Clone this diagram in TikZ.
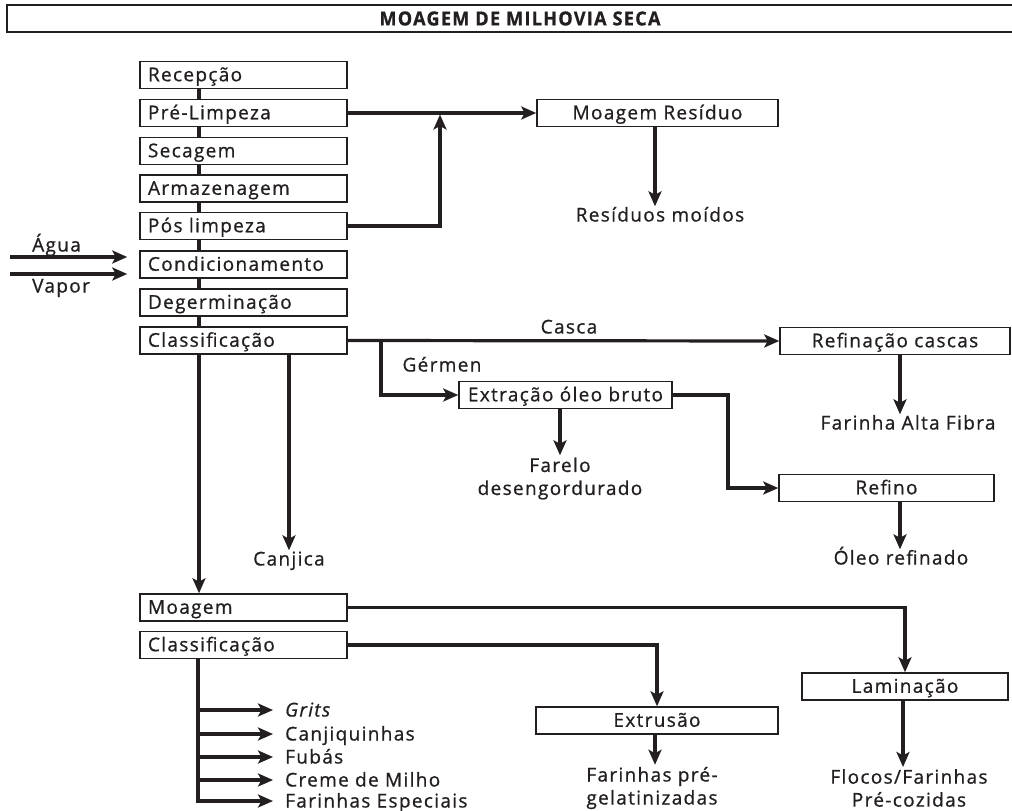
\documentclass[tikz,border=0pt]{standalone}
\usepackage{fontspec}
\usepackage{graphicx}
\setmainfont{Open Sans}[LetterSpace=7,FakeBold=0.8]
\usetikzlibrary{arrows.meta,calc}
\definecolor{ink}{HTML}{231F20}
\newcommand\bodyfnt{\fontsize{19}{23}\selectfont}
\begin{document}
\begin{tikzpicture}[x=1pt,y=-1pt,
  every node/.style={text=ink},
  box/.style={draw=ink, line width=1.5pt, minimum height=27pt, inner ysep=0pt, inner xsep=0pt, font=\bodyfnt, text height=13.5pt, text depth=1pt},
  colbox/.style={box, inner xsep=8pt, text width=191pt, align=left},
  cbox/.style={box, align=center},
  lbl/.style={inner sep=2pt, font=\bodyfnt, text height=13pt, text depth=0pt},
  mlbl/.style={inner sep=2pt, font=\bodyfnt, align=center},
  conn/.style={draw=ink, line width=3.2pt},
  arr/.style={conn, -{Stealth[length=15pt,width=13pt,inset=3.5pt]}}
]
\useasboundingbox (0,0) rectangle (1012,811);
\fill[white] (0,0) rectangle (1012,811);

% title
\draw[draw=ink, line width=1.6pt] (7,5) rectangle (1030,32);
\node[inner sep=0pt] (title) at (520,18.5) {\resizebox{281pt}{14pt}{\bfseries MOAGEM DE MILHOVIA SECA}};

% column coordinates
\coordinate (colx) at (199,0);
\coordinate (colxb) at (198,0);

% main column boxes
\node[colbox] (rec)  at (243.5,75)    {Recepção};
\node[colbox] (pre)  at (243.5,113)   {Pré-Limpeza};
\node[colbox] (sec)  at (243.5,151)   {Secagem};
\node[colbox] (arm)  at (243.5,188.5) {Armazenagem};
\node[colbox] (pos)  at (243.5,226)   {Pós limpeza};
\node[colbox] (cond) at (243.5,264.5) {Condicionamento};
\node[colbox] (deg)  at (243.5,302.5) {Degerminação};
\node[colbox] (cl1)  at (243.5,340.5) {Classificação};
\node[colbox] (mo)   at (243.5,607.5) {Moagem};
\node[colbox] (cl2)  at (243.5,645)   {Classificação};

% other boxes
\node[cbox, minimum width=241pt] (mr)  at (657.5,113) {Moagem Resíduo};
\node[cbox, minimum width=230pt] (rc)  at (895,341)   {Refinação cascas};
\node[cbox, minimum width=213pt] (ex)  at (565.5,395) {Extração óleo bruto};
\node[cbox, minimum width=215pt] (rf)  at (886.5,488) {Refino};
\node[cbox, minimum width=242pt] (ext) at (657,720.5) {Extrusão};
\node[cbox, minimum width=206pt] (la)  at (905,686.5) {Laminação};

% labels
\node[lbl] (res)   at (660,215) {Resíduos moídos};
\node[lbl] (fa)    at (908,423) {Farinha Alta Fibra};
\node[lbl] (casca) at (569,327) {Casca};
\node[lbl] (germ)  at (442,365) {Gérmen};
\node[mlbl] (far)  at (560,478.5) {Farelo\\desengordurado};
\node[lbl] (oleo)  at (901,558) {Óleo refinado};
\node[lbl] (canj)  at (289,559) {Canjica};
\node[lbl, anchor=west] (agua)  at (30,245) {Água};
\node[lbl, anchor=west] (vapor) at (30,286) {Vapor};
\node[mlbl] (fp)   at (652,788) {Farinhas pré-\\gelatinizadas};
\node[mlbl] (fl)   at (909,788) {Flocos/Farinhas\\Pré-cozidas};

\node[lbl, anchor=west] (grits) at (283,710) {\itshape Grits};
\node[lbl, anchor=west] (canq)  at (283,734) {Canjiquinhas};
\node[lbl, anchor=west] (fub)   at (283,757) {Fubás};
\node[lbl, anchor=west] (crm)   at (283,780) {Creme de Milho};
\node[lbl, anchor=west] (fes)   at (283,801) {Farinhas Especiais};

% column connectors
\foreach \a/\b in {rec/pre,pre/sec,sec/arm,arm/pos,pos/cond,cond/deg,deg/cl1}
  \draw[conn] (\a.south -| colx) -- (\b.north -| colx);

% residue branch
\coordinate (jr) at (440,114.5);
\draw[arr] (pre.east) -- (mr.west);
\draw[arr] (pos.east) -| (jr);
\draw[arr] (mr.south -| 655,0) -- (655,0 |- res.north);

% water / steam
\coordinate (ags) at (10,257);
\coordinate (vps) at (10,274);
\draw[arr] (ags) -- ([xshift=-12pt]cond.west |- ags);
\draw[arr] (vps) -- ([xshift=-12pt]cond.west |- vps);

% classification branches
\coordinate (gj) at (381,340.5);
\coordinate (jx) at (728,0);
\coordinate (ax) at (900,0);
\draw[arr] (cl1.east) -- (rc.west);
\draw[arr] (gj) |- (ex.west);
\draw[arr] (rc.south -| ax) -- (ax |- fa.north);
\draw[arr] (ex.south -| far.north) -- (far.north);
\draw[arr] (ex.east) -- (ex.east -| jx) |- (rf.west);
\draw[arr] (rf.south -| ax) -- (ax |- oleo.north);
\draw[arr] (cl1.south -| canj.north) -- (canj.north);
\draw[arr] (cl1.south -| colx) -- (mo.north -| colx);

% milling branches
\draw[arr] (mo.east) -| (la.north);
\draw[arr] (cl2.east) -| (ext.north);
\draw[arr] (ext.south -| 655,0) -- (655,0 |- fp.north);
\draw[arr] (la.south -| 903,0) -- (903,0 |- fl.north);

% product list
\draw[arr] (cl2.south -| colxb) |- ([xshift=-10pt]fes.west);
\foreach \n in {grits,canq,fub,crm}
  \draw[arr] (colxb |- \n.west) -- ([xshift=-10pt]\n.west);
\end{tikzpicture}
\end{document}
